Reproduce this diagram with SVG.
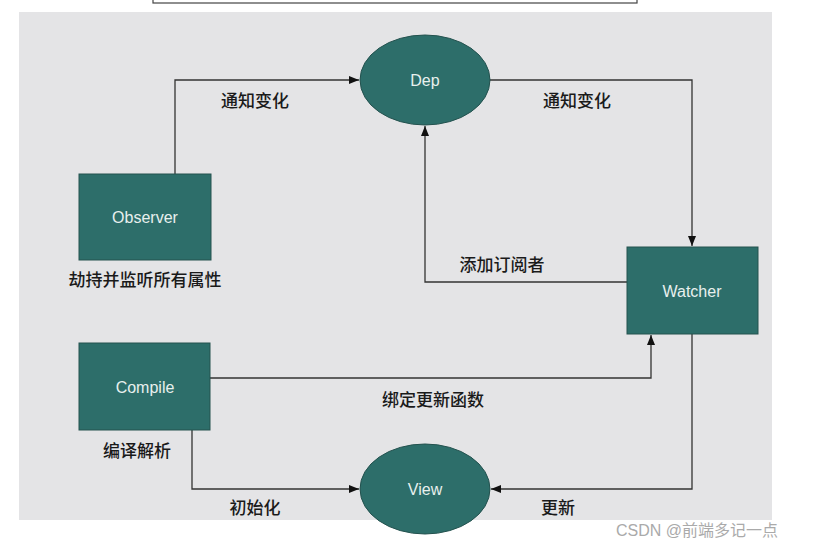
<svg xmlns="http://www.w3.org/2000/svg" width="820" height="549" viewBox="0 0 820 549">
<style>
.n{fill:#2d6e6a;stroke:#24524f;stroke-width:1}
.t{font-family:"Liberation Sans",sans-serif;font-size:16px;fill:#e8f0ee;text-anchor:middle}
.l{font-family:"Noto Sans CJK SC",sans-serif;font-size:17px;font-weight:500;fill:#1a1a1a;text-anchor:middle}
.c{fill:none;stroke:#333;stroke-width:1.3}
</style>
<defs><marker id="a" viewBox="0 0 10 10" refX="10" refY="5" markerWidth="8" markerHeight="8" orient="auto"><path d="M0,1 L10,5 L0,9 z" fill="#111"/></marker></defs>
<rect width="820" height="549" fill="#fff"/>
<rect x="153" y="-5" width="484" height="8" fill="none" stroke="#444" stroke-width="1.2"/>
<rect x="19" y="12" width="753" height="508" fill="#e4e4e6"/>
<g id="connectors">
<path class="c" d="M175,174 V80 H359" marker-end="url(#a)"/>
<path class="c" d="M490,80 H692 V246" marker-end="url(#a)"/>
<path class="c" d="M627,282 H425 V126" marker-end="url(#a)"/>
<path class="c" d="M210,378 H651 V335" marker-end="url(#a)"/>
<path class="c" d="M192,430 V489 H359" marker-end="url(#a)"/>
<path class="c" d="M692,334 V489 H491" marker-end="url(#a)"/>
<text class="l" x="255" y="107">通知变化</text>
<text class="l" x="577" y="107">通知变化</text>
<text class="l" x="502" y="271">添加订阅者</text>
<text class="l" x="433" y="406">绑定更新函数</text>
<text class="l" x="255" y="514">初始化</text>
<text class="l" x="558" y="514">更新</text>
</g>
<g id="dep"><ellipse class="n" cx="425" cy="80" rx="65" ry="45"/><text class="t" x="425" y="86">Dep</text></g>
<g id="observer"><rect class="n" x="79" y="174" width="132" height="86"/><text class="t" x="145" y="223">Observer</text><text class="l" x="145" y="286">劫持并监听所有属性</text></g>
<g id="watcher"><rect class="n" x="627" y="247" width="131" height="87"/><text class="t" x="692" y="297">Watcher</text></g>
<g id="compile"><rect class="n" x="79" y="343" width="131" height="87"/><text class="t" x="145" y="393">Compile</text><text class="l" x="137" y="457">编译解析</text></g>
<g id="view"><ellipse class="n" cx="425" cy="489" rx="65" ry="45"/><text class="t" x="425" y="495">View</text></g>
<text x="616" y="536" font-family="Liberation Sans,Noto Sans CJK SC,sans-serif" font-size="16" fill="#aaa">CSDN @前端多记一点</text>
</svg>
